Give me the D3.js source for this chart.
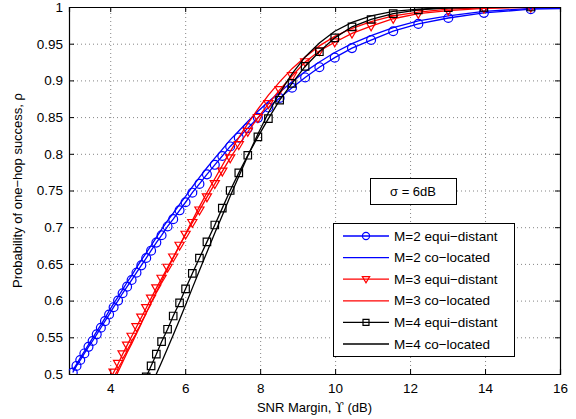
<!DOCTYPE html>
<html>
<head>
<meta charset="utf-8">
<script src="https://cdn.jsdelivr.net/npm/d3@7"></script>
<style>
  body { margin: 0; background: #fff; }
  svg { font-family: Helvetica, "Liberation Sans", Arial, sans-serif; }
</style>
</head>
<body>
<div id="chart"></div>
<script>
// SNR margin values where the markers sit
var markerX = [3.00, 3.10, 3.20, 3.31, 3.42, 3.53, 3.64, 3.75, 3.86, 3.97,
  4.09, 4.21, 4.33, 4.45, 4.57, 4.70, 4.83, 4.96, 5.09, 5.23,
  5.37, 5.53, 5.68, 5.85, 6.01, 6.19, 6.38, 6.58, 6.79, 6.99,
  7.20, 7.43, 7.67, 7.94, 8.22, 8.52, 8.85, 9.20, 9.58, 9.99,
  10.45, 10.96, 11.55, 12.22, 13.02, 13.97, 15.22, 16.9];

var m2Equi = [.502, .511, .519, .528, .537, .545, .554, .563, .572, .581,
  .591, .600, .610, .619, .628, .638, .648, .658, .668, .679,
  .689, .701, .711, .723, .734, .747, .759, .772, .785, .797,
  .810, .822, .835, .849, .863, .876, .890, .904, .918, .931,
  .944, .955, .967, .977, .985, .992, .997, .999];
var m2Co = [.505, .513, .522, .531, .540, .549, .558, .567, .576, .586,
  .596, .605, .615, .625, .634, .645, .655, .665, .675, .686,
  .697, .709, .719, .731, .742, .755, .768, .781, .794, .806,
  .819, .831, .844, .858, .871, .884, .898, .912, .925, .938,
  .950, .961, .972, .981, .988, .994, .998, .9995];
var m3Equi = [null, null, null, null, null, null, null, null, null, .490,
  .502, .514, .527, .539, .551, .564, .577, .590, .603, .617,
  .630, .645, .659, .675, .690, .706, .723, .741, .759, .776,
  .794, .812, .830, .849, .868, .887, .906, .925, .940, .952,
  .964, .974, .984, .991, .995, .998, .9995, 1];
var m3Co = [null, null, null, null, null, null, null, null, null, null,
  .490, .503, .516, .529, .541, .555, .569, .583, .597, .612,
  .626, .643, .658, .675, .691, .709, .728, .747, .766, .784,
  .803, .822, .841, .861, .880, .898, .916, .932, .947, .960,
  .971, .980, .988, .993, .997, .999, 1, 1];
var m4Equi = [null, null, null, null, null, null, null, null, null, null,
  null, null, null, null, null, null, null, .496, .511, .527,
  .544, .561, .579, .597, .616, .637, .658, .680, .703, .726,
  .750, .774, .798, .823, .848, .873, .896, .919, .939, .958,
  .973, .983, .991, .996, .999, .9995, 1, 1];
var m4Co = [null, null, null, null, null, null, null, null, null, null,
  null, null, null, null, null, null, null, null, .483, .500,
  .516, .535, .553, .574, .594, .617, .641, .666, .692, .716,
  .742, .769, .797, .827, .856, .883, .909, .932, .951, .967,
  .979, .988, .994, .997, .999, 1, 1, 1];

var seriesNames = ["M=2 equi\u2212distant", "M=2 co\u2212located", "M=3 equi\u2212distant",
  "M=3 co\u2212located", "M=4 equi\u2212distant", "M=4 co\u2212located"];
var seriesValues = [m2Equi, m2Co, m3Equi, m3Co, m4Equi, m4Co];
var seriesColors = ["#0000ff", "#0000ff", "#ff0000", "#ff0000", "#000000", "#000000"];
var seriesMarkers = ["circle", null, "triangle", null, "square", null];

var xTicks = [4, 6, 8, 10, 12, 14, 16];
var yTicks = [0.5, 0.55, 0.6, 0.65, 0.7, 0.75, 0.8, 0.85, 0.9, 0.95, 1];

var W = 576, H = 419;
var margin = {top: 7, right: 16, bottom: 45, left: 69};

var svg = d3.select("#chart").append("svg")
  .attr("width", W)
  .attr("height", H);

var x = d3.scaleLinear().domain([2.9, 16]).range([margin.left, W - margin.right]);
var y = d3.scaleLinear().domain([0.5, 1]).range([H - margin.bottom, margin.top]);

svg.append("clipPath").attr("id", "plotclip")
  .append("rect")
  .attr("x", x.range()[0]).attr("y", y.range()[1])
  .attr("width", x.range()[1] - x.range()[0])
  .attr("height", y.range()[0] - y.range()[1]);

// dotted grid
var grid = svg.append("g").attr("stroke", "#666").attr("stroke-width", 0.8)
  .attr("stroke-dasharray", "1,3");
grid.selectAll("line.gx").data(xTicks.filter(function(d) { return d < 16; }))
  .join("line")
    .attr("x1", function(d) { return x(d) + 0.5; })
    .attr("x2", function(d) { return x(d) + 0.5; })
    .attr("y1", y(0.5)).attr("y2", y(1));
grid.selectAll("line.gy").data(yTicks.filter(function(d) { return d > 0.5 && d < 1; }))
  .enter().append("line")
    .attr("y1", function(d) { return y(d) + 0.5; })
    .attr("y2", function(d) { return y(d) + 0.5; })
    .attr("x1", x(2.9)).attr("x2", x(16));

// axes, ticks pointing inward
function fmt(d) { return String(+d.toFixed(2)); }

svg.append("g")
  .attr("transform", "translate(0," + y(0.5) + ")")
  .call(d3.axisBottom(x).tickValues(xTicks).tickSize(-5).tickPadding(9).tickFormat(fmt));
svg.append("g")
  .attr("transform", "translate(0," + y(1) + ")")
  .call(d3.axisTop(x).tickValues(xTicks).tickSize(-5).tickFormat(""));
svg.append("g")
  .attr("transform", "translate(" + x(2.9) + ",0)")
  .call(d3.axisLeft(y).tickValues(yTicks).tickSize(-5).tickPadding(6).tickFormat(fmt));
svg.append("g")
  .attr("transform", "translate(" + x(16) + ",0)")
  .call(d3.axisRight(y).tickValues(yTicks).tickSize(-5).tickFormat(""));

svg.selectAll(".domain").attr("stroke", "#000").attr("stroke-width", 1.2);
svg.selectAll(".tick line").attr("stroke", "#000");
svg.selectAll(".tick text").attr("font-size", 13.5).attr("fill", "#000")
  .attr("font-family", "Helvetica, 'Liberation Sans', Arial, sans-serif");

// curves
var plot = svg.append("g").attr("clip-path", "url(#plotclip)");

var line = d3.line()
  .defined(function(d) { return d[1] !== null; })
  .x(function(d) { return x(d[0]); })
  .y(function(d) { return y(d[1]); });

function markerPath(kind, s) {
  s = s || 1;
  if (kind === "circle") return d3.symbol().type(d3.symbolCircle).size(62 * s * s)();
  if (kind === "square") return d3.symbol().type(d3.symbolSquare).size(56 * s * s)();
  if (kind === "triangle") {
    var a = 4.6 * s;
    return "M" + (-a) + "," + (-a * 0.72) + "H" + a + "L0," + a + "Z";
  }
  return null;
}

seriesValues.forEach(function(vals, i) {
  var pts = markerX.map(function(xv, j) { return [xv, vals[j]]; });
  plot.append("path")
    .datum(pts)
    .attr("fill", "none")
    .attr("stroke", seriesColors[i])
    .attr("stroke-width", 1.3)
    .attr("d", line);
  if (seriesMarkers[i]) {
    plot.selectAll(null)
      .data(pts.filter(function(d) { return d[1] !== null; }))
      .enter().append("path")
        .attr("transform", function(d) { return "translate(" + x(d[0]) + "," + y(d[1]) + ")"; })
        .attr("d", markerPath(seriesMarkers[i]))
        .attr("fill", "none")
        .attr("stroke", seriesColors[i])
        .attr("stroke-width", 1.2);
  }
});

// sigma annotation
var note = svg.append("g");
note.append("rect")
  .attr("x", 370.5).attr("y", 178.5).attr("width", 86).attr("height", 26)
  .attr("fill", "#fff").attr("stroke", "#000").attr("stroke-width", 1);
note.append("text")
  .attr("x", 413).attr("y", 196)
  .attr("text-anchor", "middle")
  .attr("font-size", 13)
  .text("\u03c3 = 6dB");

// legend
var legend = svg.append("g").attr("class", "legend");
legend.append("rect")
  .attr("x", 333.5).attr("y", 223.5).attr("width", 181).attr("height", 133)
  .attr("fill", "#fff").attr("stroke", "#000").attr("stroke-width", 1);

legend.selectAll("g.item").data(seriesNames)
  .enter().append("g")
  .each(function(d, i) {
    var g = d3.select(this);
    var yy = 236 + i * 21.6;
    g.append("line")
      .attr("x1", 343).attr("x2", 389)
      .attr("y1", yy).attr("y2", yy)
      .attr("stroke", seriesColors[i]).attr("stroke-width", 1.3);
    if (seriesMarkers[i]) {
      g.append("path")
        .attr("transform", "translate(366," + yy + ")")
        .attr("d", markerPath(seriesMarkers[i], 0.8))
        .attr("fill", "none")
        .attr("stroke", seriesColors[i])
        .attr("stroke-width", 1.2);
    }
    g.append("text")
      .attr("x", 394).attr("y", yy + 4.5)
      .attr("font-size", 13.5)
      .text(d);
  });

// axis titles
svg.append("text")
  .attr("x", x(9.45)).attr("y", 412)
  .attr("text-anchor", "middle")
  .attr("font-size", 13)
  .html("SNR Margin, <tspan font-family='DejaVu Serif'>\u03d2</tspan> (dB)");

svg.append("text")
  .attr("transform", "translate(22," + y(0.75) + ") rotate(-90)")
  .attr("text-anchor", "middle")
  .attr("font-size", 13)
  .text("Probability of one\u2212hop success, \u03c1");
</script>
</body>
</html>
